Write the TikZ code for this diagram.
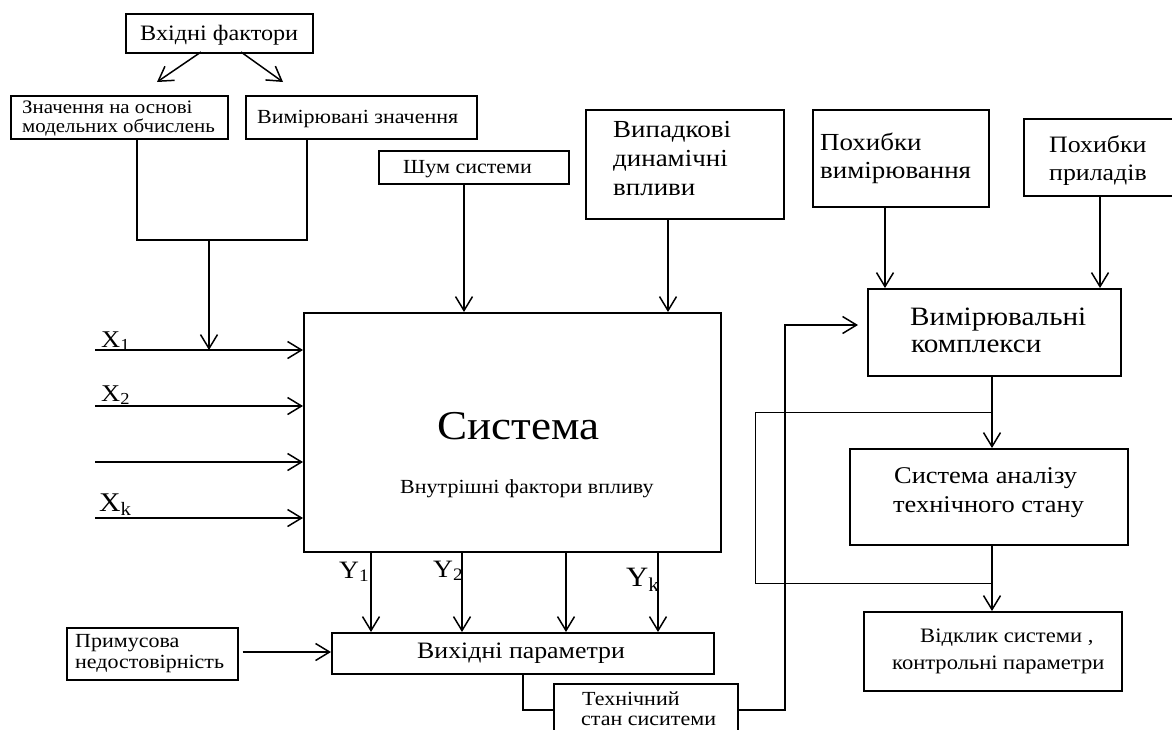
\documentclass[tikz,border=0pt]{standalone}
\usepackage{fontspec}
\setmainfont[FakeStretch=1.1]{Liberation Serif}
\usetikzlibrary{arrows.meta}
\newcommand{\fs}[1]{\fontsize{#1}{#1}\selectfont}
\begin{document}
\begin{tikzpicture}[x=1pt,y=-1pt,
  box/.style={draw, line width=1.5pt, rectangle, anchor=north west, inner sep=0pt},
  t/.style={inner sep=0pt, anchor=base west},
  ln/.style={line width=1.5pt},
  thin/.style={line width=1pt},
  arr/.style={line width=1.5pt, -{Straight Barb[length=14pt,width=17pt,line width=1.5pt]}}]
\useasboundingbox (0,0) rectangle (1172,729);
\fill[white] (0,0) rectangle (1172,729);

% boxes and texts
\node[box, minimum width=187pt, minimum height=39pt] (inp) at (125,13) {};
\node[t, font=\fs{22}] (inpT) at (140,40) {Вхідні фактори};

\node[box, minimum width=217pt, minimum height=43pt] (mod) at (10,95) {};
\node[t, font=\fs{19}] (modT1) at (22,113) {Значення на основі};
\node[t, font=\fs{19}] (modT2) at (22,132) {модельних обчислень};

\node[box, minimum width=231pt, minimum height=43pt] (meas) at (245,95) {};
\node[t, font=\fs{20}] (measT) at (257,123) {Вимірювані значення};

\node[box, minimum width=190pt, minimum height=33pt] (noise) at (378,150) {};
\node[t, font=\fs{20}] (noiseT) at (403,173) {Шум системи};

\node[box, minimum width=198pt, minimum height=109pt] (rand) at (585,109) {};
\node[t, font=\fs{24.5}] (randT1) at (613,137) {Випадкові};
\node[t, font=\fs{24.5}] (randT2) at (613,166) {динамічні};
\node[t, font=\fs{24.5}] (randT3) at (613,195) {впливи};

\node[box, minimum width=417pt, minimum height=239pt] (sys) at (303,312) {};
\node[t, font=\fs{41}] (sysT) at (437,439) {Система};
\node[t, font=\fs{20}] (sysI) at (400,493) {Внутрішні фактори впливу};

\node[box, minimum width=382pt, minimum height=41pt] (out) at (331,632) {};
\node[t, font=\fs{23.5}] (outT) at (417,658) {Вихідні параметри};

\node[box, minimum width=171pt, minimum height=52pt] (force) at (66,627) {};
\node[t, font=\fs{20}] (forceT1) at (75,647) {Примусова};
\node[t, font=\fs{20}] (forceT2) at (75,668) {недостовірність};

\node[box, minimum width=184pt, minimum height=70pt] (tech) at (553,683) {};
\node[t, font=\fs{20}] (techT1) at (582,705) {Технічний};
\node[t, font=\fs{20}] (techT2) at (581,725) {стан сиситеми};

\node[box, minimum width=176pt, minimum height=97pt] (errm) at (812,109) {};
\node[t, font=\fs{24.5}] (errmT1) at (820,150) {Похибки};
\node[t, font=\fs{24.5}] (errmT2) at (820,178) {вимірювання};

\node[box, minimum width=160pt, minimum height=77pt] (erri) at (1023,118) {};
\node[t, font=\fs{23.5}] (erriT1) at (1049,152) {Похибки};
\node[t, font=\fs{23.5}] (erriT2) at (1049,180) {приладів};

\node[box, minimum width=253pt, minimum height=87pt] (mc) at (867,288) {};
\node[t, font=\fs{26.5}] (mcT1) at (910,325) {Вимірювальні};
\node[t, font=\fs{26.5}] (mcT2) at (911,352) {комплекси};

\node[box, minimum width=278pt, minimum height=96pt] (an) at (849,448) {};
\node[t, font=\fs{24}] (anT1) at (894,483) {Система аналізу};
\node[t, font=\fs{24}] (anT2) at (893,512) {технічного стану};

\node[box, minimum width=258pt, minimum height=79pt] (resp) at (863,611) {};
\node[t, font=\fs{20.5}] (respT1) at (920,642) {Відклик системи ,};
\node[t, font=\fs{20.5}] (respT2) at (892,669) {контрольні параметри};

% input / output labels
\node[t, font=\fs{24}] (x1) at (101,347) {X\textsubscript{1}};
\node[t, font=\fs{24}] (x2) at (101,401) {X\textsubscript{2}};
\node[t, font=\fs{27}] (xk) at (99,511) {X\textsubscript{k}};
\node[t, font=\fs{25}] (y1) at (339,578) {Y\textsubscript{1}};
\node[t, font=\fs{25}] (y2) at (433,577) {Y\textsubscript{2}};
\node[t, font=\fs{28}] (yk) at (626,586) {Y\textsubscript{k}};

% coordinates
\coordinate (a1s) at (201,52); \coordinate (a1e) at (157,82);
\coordinate (a2s) at (241,52); \coordinate (a2e) at (283,82);
\coordinate (m1) at (137,138); \coordinate (m2) at (137,240);
\coordinate (m3) at (307,240); \coordinate (m4) at (307,138);
\coordinate (mj) at (209,240); \coordinate (mje) at (209,350);
\coordinate (xs1) at (95,350); \coordinate (xs2) at (95,406);
\coordinate (xs3) at (95,462); \coordinate (xs4) at (95,518);

% connectors
\draw[arr] (a1s) -- (a1e);
\draw[arr] (a2s) -- (a2e);
\draw[ln] (m1) -- (m2) -- (m3) -- (m4);
\draw[arr] (mj) -- (mje);
\foreach \i in {1,2,3,4} \draw[arr] (xs\i) -- (xs\i -| sys.west);
\draw[arr] (noise.south -| 464,0) -- (sys.north -| 464,0);
\draw[arr] (rand.south -| 668,0) -- (sys.north -| 668,0);
\foreach \xx in {371,462,566,658} \draw[arr] (sys.south -| \xx,0) -- (out.north -| \xx,0);
\draw[arr] (force.east |- 0,652) ++(4,0) -- (out.west |- 0,652);
\draw[ln] (out.south -| 523,0) |- (tech.west |- 0,710);
\draw[arr] (tech.east |- 0,710) -| (785,325) -- ++(73,0);
\draw[arr] (errm.south -| 885,0) -- (mc.north -| 885,0);
\draw[arr] (erri.south -| 1100,0) -- (mc.north -| 1100,0);
\draw[arr] (mc.south -| 992,0) -- (an.north -| 992,0);
\draw[arr] (an.south -| 992,0) -- (resp.north -| 992,0);
\draw[thin] (992,412) -- (755,412) -- (755,583) -- (992,583);
\end{tikzpicture}
\end{document}
